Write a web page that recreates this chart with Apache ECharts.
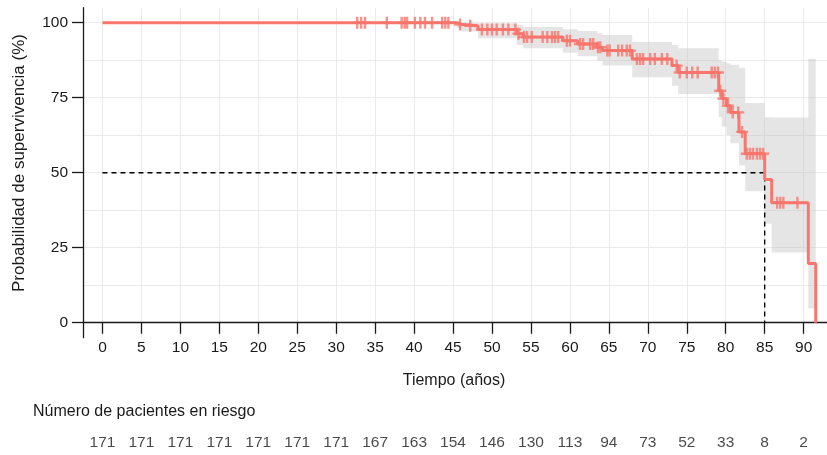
<!DOCTYPE html>
<html>
<head>
<meta charset="utf-8">
<script src="https://cdn.jsdelivr.net/npm/echarts@6/dist/echarts.min.js"></script>
<style>
  html, body { margin: 0; padding: 0; background: #fff; }
  #chart { width: 827px; height: 455px; }
</style>
</head>
<body>
<div id="chart"></div>
<script>
// Kaplan-Meier curve: time (years) where each step starts, survival (%) from that time on
var kmTime  = [0, 45.5, 46.1, 48.2, 53.2, 54.0, 59.1, 61.0, 63.5, 64.2, 68.0, 73.1, 73.9, 79.1, 79.5, 80.1, 80.6, 81.7, 82.5, 85.0, 85.9, 90.6, 91.55];
var kmSurv  = [100, 99.4, 99.0, 97.7, 96.3, 95.2, 94.0, 92.9, 91.8, 90.7, 87.9, 85.7, 83.4, 77.3, 74.7, 72.3, 70.1, 63.6, 56.3, 47.7, 40.0, 19.7, 0];
// 95% confidence band at the same times
var ciLower = [100, 98.2, 97.1, 94.8, 92.6, 91.5, 90.0, 88.8, 87.3, 85.7, 81.8, 79.0, 76.2, 68.5, 65.4, 62.6, 59.8, 52.4, 43.8, 33.0, 23.4, 4.7, 4.7];
var ciUpper = [100, 100, 100, 99.8, 99.2, 98.6, 97.8, 97.2, 96.5, 95.9, 93.6, 92.6, 91.5, 87.5, 87.0, 86.5, 86.0, 85.0, 73.2, 68.5, 68.4, 88.0, 88.0];
// censored observations (years)
var censorTime = [32.7, 33.2, 33.7, 36.5, 38.4, 38.8, 39.1, 40.1, 40.8, 41.4, 42.3, 43.6, 44.0, 44.4,
  45.9, 47.2, 48.7, 49.4, 50.0, 50.6, 51.4, 52.1, 53.0, 53.4, 54.1, 54.5, 55.1, 56.5, 57.1, 57.7, 58.1, 58.5,
  59.6, 60.0, 61.3, 61.7, 62.6, 63.0, 63.6, 63.9, 64.8, 65.1, 66.2, 66.7, 67.3, 67.7, 68.6, 69.0, 69.4, 70.3,
  70.9, 71.8, 72.5, 73.7, 74.1, 75.0, 75.7, 76.4, 78.2, 78.6, 79.0, 79.3, 79.7, 80.3, 80.9, 81.6, 82.1,
  82.7, 83.1, 83.5, 84.0, 84.4, 84.8, 86.6, 87.0, 87.4, 89.2];
// median survival
var medianTime = 85.0;
var medianSurv = 50;
// number at risk table
var riskTimes  = [0, 5, 10, 15, 20, 25, 30, 35, 40, 45, 50, 55, 60, 65, 70, 75, 80, 85, 90];
var riskCounts = [171, 171, 171, 171, 171, 171, 171, 167, 163, 154, 146, 130, 113, 94, 73, 52, 33, 8, 2];
var xTicks = [0, 5, 10, 15, 20, 25, 30, 35, 40, 45, 50, 55, 60, 65, 70, 75, 80, 85, 90];
var yTicks = [0, 25, 50, 75, 100];

var RED = '#F8766D';
var TXT = '#1a1a1a';
var GRIDC = '#ebebeb';
var FONT = '"Liberation Sans", Arial, sans-serif';

function survAt(t) {
  var s = 100;
  for (var i = 0; i < kmTime.length; i++) {
    if (kmTime[i] <= t) s = kmSurv[i];
  }
  return s;
}

var kmData = kmTime.map(function(t, i) { return [t, kmSurv[i]]; });
var censorData = censorTime.map(function(t) { return [t, survAt(t)]; });
var medianData = [[0, medianSurv], [medianTime, medianSurv], [medianTime, 0]];
var riskData = riskTimes.map(function(t, i) { return [t, 0.5, riskCounts[i]]; });

// step-shaped polygon for the confidence band
function renderBand(params, api) {
  var pts = [];
  var n = kmTime.length;
  for (var i = 0; i < n - 1; i++) {
    pts.push(api.coord([kmTime[i], ciUpper[i]]));
    pts.push(api.coord([kmTime[i + 1], ciUpper[i]]));
  }
  for (var j = n - 2; j >= 0; j--) {
    pts.push(api.coord([kmTime[j + 1], ciLower[j]]));
    pts.push(api.coord([kmTime[j], ciLower[j]]));
  }
  return { type: 'polygon', shape: { points: pts }, style: { fill: 'rgba(190,190,190,0.4)' } };
}

var plus = 'path://M4,0 H6 V4 H10 V6 H6 V10 H4 V6 H0 V4 H4 Z';

var chart = echarts.init(document.getElementById('chart'));
chart.setOption({
  backgroundColor: '#fff',
  animation: false,
  textStyle: { fontFamily: FONT },
  grid: [
    { left: 83, right: 0, top: 7.7, height: 330 },
    { left: 83, right: 0, top: 22.7, height: 300 },
    { left: 83, right: 0, top: 430, height: 26 }
  ],
  xAxis: [
    {
      gridIndex: 0, type: 'value', min: -2.5, max: 93, interval: 2.5,
      axisLine: { onZero: true, lineStyle: { color: TXT, width: 1.3 } },
      axisTick: { customValues: xTicks, length: 11, lineStyle: { color: TXT, width: 1.3 } },
      axisLabel: { customValues: xTicks, color: TXT, fontSize: 15.5, margin: 2, fontFamily: FONT },
      splitLine: { show: true, lineStyle: { color: GRIDC, width: 1 } }
    },
    { gridIndex: 1, type: 'value', min: -2.5, max: 93, show: false },
    { gridIndex: 2, type: 'value', min: -2.5, max: 93, show: false }
  ],
  yAxis: [
    {
      gridIndex: 0, type: 'value', min: -5, max: 105,
      axisLine: { show: true, onZero: false, lineStyle: { color: TXT, width: 1.3 } },
      axisTick: { show: true, customValues: yTicks, length: 11, lineStyle: { color: TXT, width: 1.3 } },
      axisLabel: { customValues: yTicks, color: TXT, fontSize: 15.5, margin: 15, fontFamily: FONT },
      splitLine: { show: false }
    },
    {
      gridIndex: 1, type: 'value', min: 0, max: 100, interval: 12.5,
      axisLine: { show: false }, axisTick: { show: false }, axisLabel: { show: false },
      splitLine: { show: true, lineStyle: { color: GRIDC, width: 1 } }
    },
    { gridIndex: 2, type: 'value', min: 0, max: 1, show: false }
  ],
  graphic: [
    {
      type: 'text', x: 19, y: 163, rotation: Math.PI / 2,
      style: { text: 'Probabilidad de supervivencia (%)', fill: TXT, font: '17px ' + FONT, textAlign: 'center', textVerticalAlign: 'middle' }
    },
    {
      type: 'text', x: 454, y: 381,
      style: { text: 'Tiempo (años)', fill: TXT, font: '16px ' + FONT, textAlign: 'center', textVerticalAlign: 'middle' }
    },
    {
      type: 'text', x: 33, y: 411.5,
      style: { text: 'Número de pacientes en riesgo', fill: TXT, font: '16px ' + FONT, textAlign: 'left', textVerticalAlign: 'middle' }
    }
  ],
  series: [
    {
      type: 'custom', xAxisIndex: 0, yAxisIndex: 0, coordinateSystem: 'cartesian2d',
      data: [[0, 0]], renderItem: renderBand, silent: true, z: 1
    },
    {
      type: 'line', xAxisIndex: 0, yAxisIndex: 0,
      data: medianData, symbol: 'none',
      lineStyle: { color: '#000', width: 1.4, type: [5, 4] }, z: 2
    },
    {
      type: 'line', xAxisIndex: 0, yAxisIndex: 0, step: 'end',
      data: kmData, symbol: 'none',
      lineStyle: { color: RED, width: 3 }, z: 3
    },
    {
      type: 'scatter', xAxisIndex: 0, yAxisIndex: 0,
      data: censorData, symbol: plus, symbolSize: 12,
      itemStyle: { color: RED }, z: 4
    },
    {
      type: 'scatter', xAxisIndex: 2, yAxisIndex: 2,
      data: riskData, symbolSize: 1, itemStyle: { color: 'transparent' },
      label: {
        show: true, position: 'inside', color: TXT, fontSize: 15.5, fontFamily: FONT,
        formatter: function(p) { return p.data[2]; }
      }
    }
  ]
});
</script>
</body>
</html>
